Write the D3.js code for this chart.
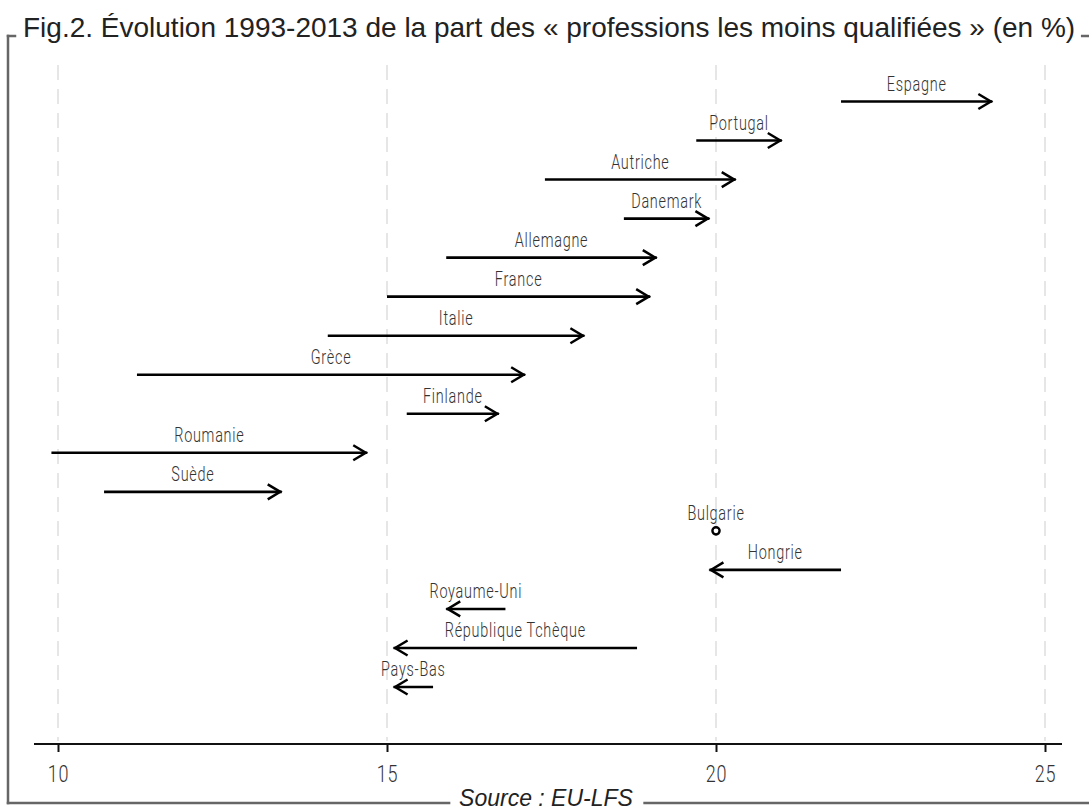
<!DOCTYPE html>
<html>
<head>
<meta charset="utf-8">
<script src="https://cdn.jsdelivr.net/npm/d3@7"></script>
<style>
  html, body { margin: 0; padding: 0; background: #fff; }
  svg { display: block; }
</style>
</head>
<body>
<svg id="chart" width="1089" height="810"></svg>
<script>
const countries = ["Espagne","Portugal","Autriche","Danemark","Allemagne","France","Italie","Grèce","Finlande","Roumanie","Suède","Bulgarie","Hongrie","Royaume-Uni","République Tchèque","Pays-Bas"];
const v1993 = [21.9,19.7,17.4,18.6,15.9,15.0,14.1,11.2,15.3,9.9,10.7,20.0,21.9,16.8,18.8,15.7];
const v2013 = [24.2,21.0,20.3,19.9,19.1,19.0,18.0,17.1,16.7,14.7,13.4,20.0,19.9,15.9,15.1,15.1];
const tickValues = [10,15,20,25];
const titleText = "Fig.2. Évolution 1993-2013 de la part des « professions les moins qualifiées » (en %)";
const sourceText = "Source : EU-LFS";

const svg = d3.select("#chart");
const x = d3.scaleLinear().domain([10,25]).range([58,1045]);
const y = d3.scalePoint().domain(countries).range([101.5,687]);

const labelFont = "Roboto, 'DejaVu Sans', sans-serif";

// marker
const defs = svg.append("defs");
defs.append("marker")
  .attr("id","arrow")
  .attr("markerUnits","userSpaceOnUse")
  .attr("viewBox","-16 -10 20 20")
  .attr("markerWidth",20).attr("markerHeight",20)
  .attr("refX",1.5).attr("refY",0)
  .attr("orient","auto")
  .append("path")
  .attr("d","M-12.5,-7.5 L0,0 L-12.5,7.5")
  .attr("fill","none").attr("stroke","#000").attr("stroke-width",2.5);

// gridlines
svg.append("g").selectAll("line").data(tickValues).join("line")
  .attr("x1",d=>x(d)).attr("x2",d=>x(d))
  .attr("y1",65).attr("y2",741)
  .attr("stroke","#e6e6e6").attr("stroke-width",2)
  .attr("stroke-dasharray","15,9");

// axis
const axisG = svg.append("g").attr("transform","translate(0,744)")
  .call(d3.axisBottom(x).tickValues(tickValues).tickSize(8).tickPadding(13).tickFormat(d3.format("d")));
axisG.select(".domain").remove();
axisG.selectAll(".tick line").attr("stroke","#111").attr("stroke-width",2);
axisG.selectAll(".tick text")
  .attr("font-family",labelFont).attr("font-weight",300)
  .attr("font-size",24).attr("fill","#333")
  .attr("letter-spacing",1)
  .attr("transform","scale(0.75,1)");
axisG.append("line").attr("x1",x.range()[0]-24).attr("x2",x.range()[1]+17)
  .attr("y1",0).attr("y2",0).attr("stroke","#111").attr("stroke-width",2);

// data
const data = countries.map((c,i)=>({c, a:v1993[i], b:v2013[i]}));
const rows = svg.append("g").selectAll("g").data(data).join("g");
rows.filter(d=>d.a!==d.b).append("line")
  .attr("x1",d=>x(d.a)).attr("x2",d=>x(d.b))
  .attr("y1",d=>y(d.c)).attr("y2",d=>y(d.c))
  .attr("stroke","#000").attr("stroke-width",2.6)
  .attr("marker-end","url(#arrow)");
rows.filter(d=>d.a===d.b).append("circle")
  .attr("cx",d=>x(d.a)).attr("cy",d=>y(d.c)).attr("r",3.6)
  .attr("fill","#fff").attr("stroke","#000").attr("stroke-width",2.4);
rows.append("text")
  .attr("transform",d=>`translate(${(x(d.a)+x(d.b))/2},${y(d.c)-11}) scale(0.74,1)`)
  .attr("text-anchor","middle")
  .attr("font-family",labelFont).attr("font-weight",300)
  .attr("font-size",19.5).attr("fill","#333")
  .attr("letter-spacing",1)
  .text(d=>d.c);

// frame with title and source
const frameL = 8, frameT = 36, frameB = 803, frameR = 1100;
const title = svg.append("text").attr("x",23).attr("y",37)
  .attr("font-family","'Liberation Sans', Arial, sans-serif").attr("font-size",28).attr("fill","#222")
  .text(titleText);
const source = svg.append("text").attr("x",546).attr("y",806)
  .attr("text-anchor","middle")
  .attr("font-family","'Liberation Sans', Arial, sans-serif").attr("font-style","italic")
  .attr("font-size",23).attr("fill","#222")
  .text(sourceText);
const tb = title.node().getBBox();
const sb = source.node().getBBox();
const segs = [
  [frameL,frameT,tb.x-8,frameT],
  [tb.x+tb.width+7,frameT,frameR,frameT],
  [frameL,frameT,frameL,frameB],
  [frameL,frameB,sb.x-10,frameB],
  [sb.x+sb.width+11,frameB,frameR,frameB]
];
svg.append("g").selectAll("line").data(segs).join("line")
  .attr("x1",d=>d[0]).attr("y1",d=>d[1]).attr("x2",d=>d[2]).attr("y2",d=>d[3])
  .attr("stroke","#666").attr("stroke-width",2.5).attr("stroke-linecap","square");
</script>
</body>
</html>
